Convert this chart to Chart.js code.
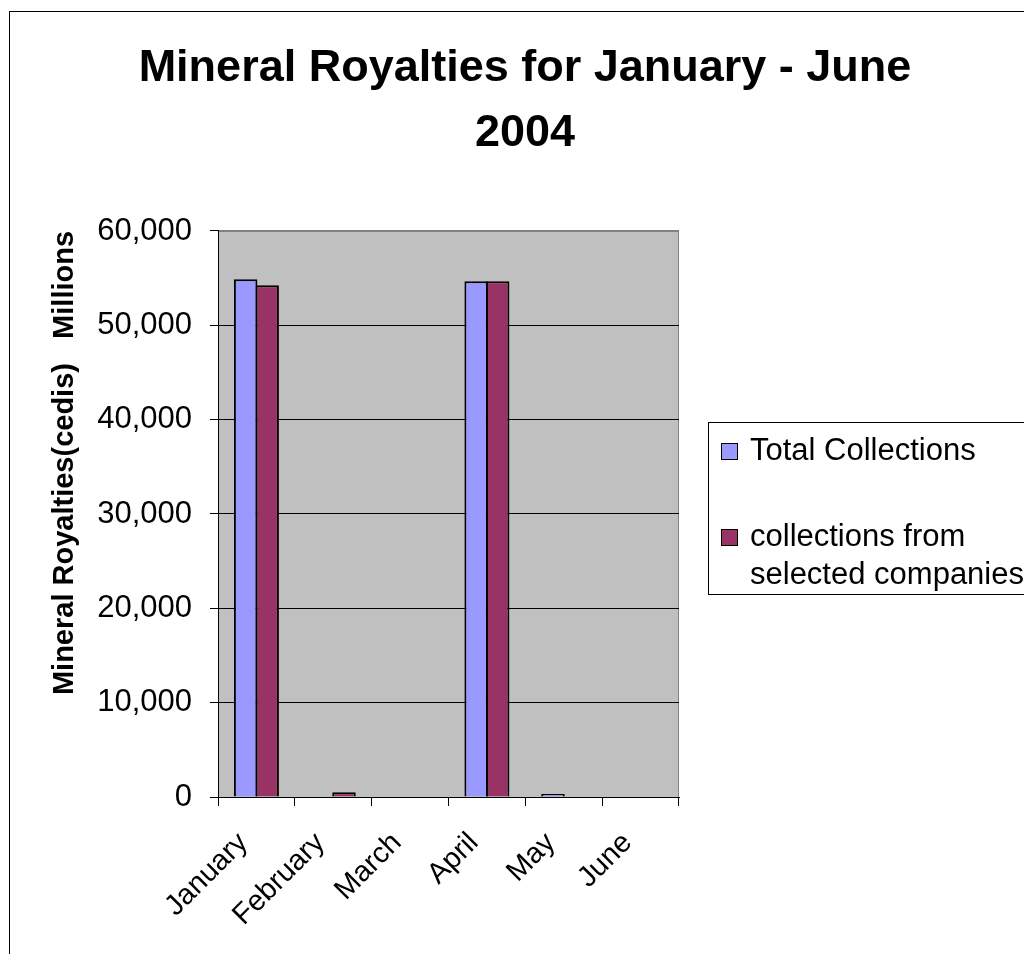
<!DOCTYPE html>
<html>
<head>
<meta charset="utf-8">
<script src="https://cdn.jsdelivr.net/npm/chart.js@4/dist/chart.umd.min.js"></script>
<style>
    html, body { margin: 0; padding: 0; background: #fff; overflow: hidden; }
    #frame {
        position: absolute; left: 9px; top: 11px;
        width: 1040px; height: 1000px;
        border: 1px solid #000; pointer-events: none;
    }
    #chart { position: absolute; left: 0; top: 0; }
</style>
</head>
<body>
<div id="frame"></div>
<canvas id="chart" width="1050" height="954"></canvas>
<script>
    // values (cedis, millions); blank months left as null
    const months = ["January", "February", "March", "April", "May", "June"];
    const totalCollections = [54880, null, null, 54670, 320, null];
    const selectedCollections = [54240, 500, null, 54670, null, null];
    const yTicks = [0, 10000, 20000, 30000, 40000, 50000, 60000];

    const chartTitle = ["Mineral Royalties for January - June", "2004"];
    const yTitle = "Mineral Royalties(cedis)   Millions";
    const seriesNames = ["Total Collections", "collections from selected companies"];

    const FONT = "'Liberation Sans', Arial, sans-serif";
    Chart.defaults.font.family = FONT;
    Chart.defaults.color = "#000";

    // grey plot background and frame
    const plotBackground = {
        id: "plotBackground",
        beforeDraw(chart) {
            const { ctx, chartArea: a } = chart;
            ctx.save();
            ctx.fillStyle = "#c0c0c0";
            ctx.fillRect(a.left, a.top, a.right - a.left, a.bottom - a.top);
            ctx.strokeStyle = "#808080";
            ctx.lineWidth = 1;
            ctx.strokeRect(a.left + 0.5, a.top + 0.5, a.right - a.left - 1, a.bottom - a.top);
            ctx.restore();
        }
    };

    // vertical axis title, placed where the original sits
    const sideTitle = {
        id: "sideTitle",
        afterDraw(chart) {
            const { ctx } = chart;
            ctx.save();
            ctx.translate(73, 463);
            ctx.rotate(-Math.PI / 2);
            ctx.font = `bold 29px ${FONT}`;
            ctx.fillStyle = "#000";
            ctx.textAlign = "center";
            ctx.textBaseline = "alphabetic";
            ctx.fillText(yTitle, 0, 0);
            ctx.restore();
        }
    };

    // boxed legend on the right, labels wrapped like the original
    const boxLegend = {
        id: "boxLegend",
        afterDraw(chart) {
            const { ctx } = chart;
            const x = 708, y = 422, w = 340, h = 172;
            const lineH = 38, maxW = 300;
            ctx.save();
            ctx.strokeStyle = "#000";
            ctx.lineWidth = 1;
            ctx.strokeRect(x + 0.5, y + 0.5, w, h);
            ctx.font = `31px ${FONT}`;
            ctx.textBaseline = "middle";
            ctx.textAlign = "left";
            let cy = 451;
            chart.data.datasets.forEach(ds => {
                ctx.fillStyle = ds.backgroundColor;
                ctx.fillRect(721, cy - 8, 17, 17);
                ctx.strokeStyle = "#000";
                ctx.strokeRect(721.5, cy - 7.5, 16, 16);
                const words = ds.label.split(" ");
                const lines = [];
                let line = "";
                words.forEach(word => {
                    const test = line ? `${line} ${word}` : word;
                    if (ctx.measureText(test).width > maxW && line) {
                        lines.push(line);
                        line = word;
                    } else {
                        line = test;
                    }
                });
                lines.push(line);
                ctx.fillStyle = "#000";
                lines.forEach((l, i) => ctx.fillText(l, 750, cy + i * lineH));
                cy += 86;
            });
            ctx.restore();
        }
    };

    const data = {
        labels: months,
        datasets: [{
            label: seriesNames[0],
            data: totalCollections,
            backgroundColor: "#9999ff",
            borderColor: "#000",
            borderWidth: 2
        }, {
            label: seriesNames[1],
            data: selectedCollections,
            backgroundColor: "#993366",
            borderColor: "#000",
            borderWidth: 2
        }]
    };

    const options = {
        responsive: false,
        animation: { duration: 0 },
        layout: { padding: 0 },
        datasets: {
            // bars slightly wider than their slot so neighbours share one border
            bar: { categoryPercentage: 0.56, barPercentage: 1.093 }
        },
        scales: {
            x: {
                grid: {
                    offset: true,
                    drawOnChartArea: false,
                    color: "#000",
                    tickLength: 9
                },
                border: { color: "#000", width: 1 },
                ticks: {
                    font: { size: 29 },
                    minRotation: 45,
                    maxRotation: 45,
                    padding: 20,
                    labelOffset: -13,
                    autoSkip: false
                },
                afterFit(scale) { scale.height = 157; }
            },
            y: {
                min: 0,
                max: 60000,
                afterBuildTicks(scale) { scale.ticks = yTicks.map(v => ({ value: v })); },
                grid: {
                    color: ctx => (ctx.tick && ctx.tick.value === 60000 ? "#808080" : "#000"),
                    tickColor: "#000",
                    tickLength: 8
                },
                border: { color: "#000", width: 1 },
                ticks: {
                    font: { size: 31 },
                    padding: 18,
                    callback: value => value.toLocaleString("en-US")
                },
                afterFit(scale) { scale.width = 218; }
            },
            // empty right-hand axis: keeps the room the legend box sits in
            side: {
                position: "right",
                grid: { display: false },
                border: { display: false },
                ticks: { display: false },
                afterFit(scale) { scale.width = 371; }
            }
        },
        plugins: {
            title: {
                display: true,
                text: chartTitle,
                font: { size: 45, weight: "bold", lineHeight: 1.444 },
                color: "#000",
                padding: { top: 36, bottom: 65 }
            },
            legend: { display: false },
            tooltip: { enabled: false }
        }
    };

    new Chart(document.getElementById("chart"), {
        type: "bar",
        data: data,
        options: options,
        plugins: [plotBackground, sideTitle, boxLegend]
    });
</script>
</body>
</html>
